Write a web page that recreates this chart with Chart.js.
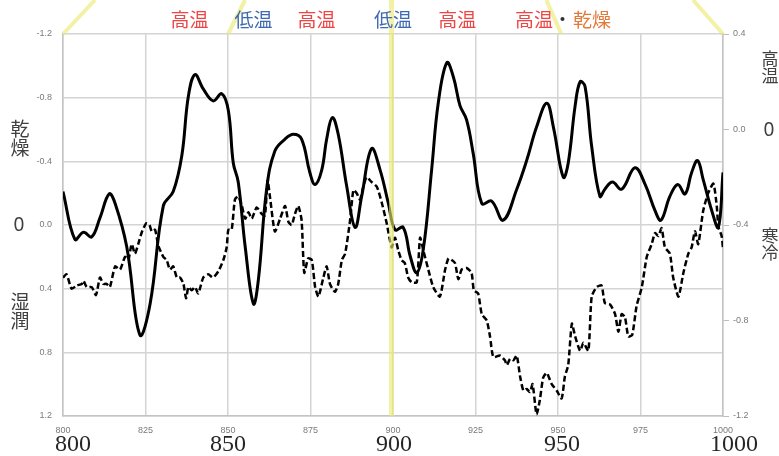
<!DOCTYPE html>
<html lang="ja">
<head>
<meta charset="utf-8">
<script src="https://cdn.jsdelivr.net/npm/chart.js@4/dist/chart.umd.min.js"></script>
<style>
  html, body { margin: 0; padding: 0; background: #ffffff; }
  #wrap { width: 779px; height: 456px; position: relative; }
</style>
</head>
<body>
<div id="wrap"><canvas id="c" width="779" height="456"></canvas></div>
<script>
// 気温（実線・右軸）
const tempYears = [800,803.6,806.2,808.7,811.2,814,815.8,819.3,823.3,826.4,830.4,833.4,836,838,840,842.5,845.5,848.1,850.1,851.6,853.1,855.2,857.7,859.2,861.7,864.2,867.3,869.8,872.3,874.8,876.4,878.4,879.9,881.6,883.4,886,888.5,890.5,893.5,896.1,898.6,900.6,903.1,905.2,907.2,909.2,911.7,913.7,916.3,918.3,920.3,922.3,924.3,926.9,929.9,933.4,937.5,940.5,943.5,946.6,948.6,951.6,953.1,955.2,956.7,958.2,960.2,962.7,964.2,966.5,969.3,973.3,976.4,979.4,981.2,983.9,986.3,988.5,990.5,992.3,994,996.6,998.6,1000];
const tempValues = [-0.26,-0.46,-0.43,-0.45,-0.37,-0.27,-0.31,-0.49,-0.86,-0.73,-0.32,-0.26,-0.11,0.14,0.23,0.17,0.12,0.15,0.08,-0.14,-0.22,-0.49,-0.73,-0.63,-0.25,-0.09,-0.04,-0.02,-0.04,-0.18,-0.23,-0.17,-0.04,0.05,-0.02,-0.24,-0.41,-0.28,-0.08,-0.17,-0.31,-0.42,-0.41,-0.53,-0.6,-0.5,-0.17,0.11,0.28,0.22,0.1,0.04,-0.1,-0.31,-0.3,-0.38,-0.25,-0.13,0.01,0.11,0.01,-0.2,-0.14,0.1,0.2,0.18,-0.07,-0.28,-0.25,-0.22,-0.25,-0.16,-0.23,-0.34,-0.38,-0.28,-0.23,-0.27,-0.18,-0.13,-0.21,-0.34,-0.41,-0.18];

// 乾湿（破線・左軸、上が乾燥）
const moistYears = [800,801.1,802.6,804.2,805.7,806.2,807.2,808.7,810,811.2,812.2,813.2,814.2,815.8,817.3,818.8,819.8,820.8,821.8,822.8,823.8,825.2,826.2,826.9,827.9,828.9,830.4,831.4,832.4,833.4,834.5,835.5,836.5,837.3,838,839,840,841,842.5,844,845.5,847.1,848.6,849.6,850.1,851.1,852.1,853.1,854.2,855.2,856.2,857.2,858.7,860.2,861.2,862,862.7,864.2,865.8,867.3,868.3,869.3,870.3,871.3,872.3,873.1,874.3,875.4,876.4,877.4,878.9,879.9,880.9,882.4,883.4,884.5,885.5,887,888,889,890,891,892,893.5,895.1,896.6,898.1,899.6,900.6,901.6,902.6,903.6,904.6,905.7,907.2,908.2,909.2,910.7,912.2,914.2,915.8,916.8,917.8,918.8,919.8,920.8,922.3,923.8,924.5,925.8,926.9,928.4,929.4,930.4,932.4,933.9,934.5,935.5,936.5,937.5,938.5,939.5,940.5,941.5,942.3,943.5,944.5,945.5,946.6,948.1,949.6,951.1,952.1,953.1,954.2,955.2,956.7,957.7,959.2,960.2,961.7,963.2,964.2,965.8,967.3,968.3,969.3,970.3,971.3,972.5,973.8,975.4,976.9,978.4,979.4,980.4,981.4,982.4,983.9,984.9,986.5,988,989.5,990.5,991.5,992.5,994,995.5,997.1,998.1,998.6,999.6,1000];
const moistValues = [0.33,0.31,0.4,0.38,0.37,0.35,0.39,0.39,0.44,0.33,0.37,0.37,0.39,0.26,0.28,0.2,0.22,0.12,0.18,0.12,0.05,-0.01,0,0.04,0.03,0.13,0.2,0.22,0.28,0.26,0.33,0.33,0.37,0.46,0.39,0.41,0.39,0.43,0.33,0.31,0.33,0.29,0.22,0.14,0.03,0.03,-0.16,-0.18,-0.12,-0.04,-0.08,-0.04,-0.11,-0.07,-0.06,-0.28,-0.18,0.04,-0.04,-0.12,-0.02,0,-0.07,-0.12,-0.03,0.3,0.21,0.22,0.39,0.45,0.33,0.26,0.37,0.42,0.37,0.22,0.18,-0.03,-0.22,-0.2,-0.16,-0.24,-0.3,-0.27,-0.24,-0.14,-0.01,0.14,0.08,0.16,0.22,0.24,0.33,0.36,0.36,0.08,0.16,0.28,0.39,0.45,0.28,0.21,0.22,0.24,0.34,0.28,0.27,0.3,0.41,0.43,0.56,0.6,0.7,0.83,0.82,0.85,0.88,0.84,0.85,0.82,0.95,1.04,1.03,1.05,1.0,1.19,1.1,0.96,0.93,1.0,1.04,1.09,0.95,0.88,0.62,0.7,0.79,0.74,0.79,0.45,0.39,0.38,0.49,0.5,0.56,0.67,0.56,0.58,0.7,0.69,0.51,0.39,0.2,0.12,0.05,0.07,0.02,0.14,0.18,0.33,0.45,0.3,0.18,0.14,0.04,0.12,-0.09,-0.2,-0.26,-0.12,0.01,0.07,0.15];

// 軸の目盛り
const xTicks = [800, 825, 850, 875, 900, 925, 950, 975, 1000];
const leftTicks = [-1.2, -0.8, -0.4, 0.0, 0.4, 0.8, 1.2];
const rightTicks = [-1.2, -0.8, -0.4, 0.0, 0.4];
const bigYearLabels = [800, 850, 900, 950, 1000];

// 上部の時期区分
const periodLabels = [
  { text: '高温', year: 838.3, kind: 'hot' },
  { text: '低温', year: 857.7, kind: 'cold' },
  { text: '高温', year: 876.8, kind: 'hot' },
  { text: '低温', year: 900.0, kind: 'cold' },
  { text: '高温', year: 919.5, kind: 'hot' },
  { text: '高温', year: 942.7, kind: 'hot' },
  { text: '・', year: 951.4, kind: 'dot' },
  { text: '乾燥', year: 960.3, kind: 'dry' }
];

const FONT_CJK = '"Noto Sans CJK JP", "Noto Sans", sans-serif';
const kindColor = { hot: '#ee4646', cold: '#3f68b2', dry: '#e07a38', dot: '#333333' };
const bigShift = { 800: 10, 850: 0, 900: 1, 950: 4, 1000: 11 };

const fmt = v => (Math.abs(v) < 1e-9 ? 0 : v).toFixed(1);

const decor = {
  id: 'decor',
  afterDatasetsDraw(chart) {
    const { ctx, chartArea: a, scales } = chart;
    const xs = scales.x;
    ctx.save();
    ctx.strokeStyle = 'rgba(236,232,110,0.62)';
    ctx.lineCap = 'butt';
    // 900年の縦帯
    ctx.lineWidth = 5;
    const x900 = xs.getPixelForValue(900) - 1.5;
    ctx.beginPath(); ctx.moveTo(x900, 0); ctx.lineTo(x900, a.bottom); ctx.stroke();
    // 上方へ伸びる斜線
    ctx.lineWidth = 4;
    const diag = [[800, 32], [850, 17], [951, -15], [1000, -30]];
    diag.forEach(([yr, dx]) => {
      const px = xs.getPixelForValue(yr);
      ctx.beginPath(); ctx.moveTo(px, a.top); ctx.lineTo(px + dx, 0); ctx.stroke();
    });
    ctx.restore();
  },
  afterDraw(chart) {
    const { ctx, scales } = chart;
    const xs = scales.x;
    ctx.save();
    ctx.textAlign = 'center';
    ctx.textBaseline = 'middle';

    // 時期区分ラベル
    ctx.font = '19px ' + FONT_CJK;
    periodLabels.forEach(p => {
      ctx.fillStyle = kindColor[p.kind];
      ctx.fillText(p.text, xs.getPixelForValue(p.year), 20);
    });

    // 大きな年号
    ctx.font = '24px "Liberation Serif", "DejaVu Serif", serif';
    ctx.fillStyle = '#262626';
    bigYearLabels.forEach(y => {
      ctx.fillText(String(y), xs.getPixelForValue(y) + bigShift[y], 445);
    });

    // 左側：乾燥 / 0 / 湿潤
    const yl = scales.y;
    ctx.fillStyle = '#404040';
    ctx.font = '19px ' + FONT_CJK;
    ctx.fillText('乾', 20, 129);
    ctx.fillText('燥', 20, 148);
    ctx.fillText('湿', 20, 302);
    ctx.fillText('潤', 20, 321);
    ctx.font = '19px "Noto Sans", sans-serif';
    ctx.fillText('0', 19, yl.getPixelForValue(0) + 1);

    // 右側：高温 / 0 / 寒冷
    const yr = scales.yT;
    ctx.font = '17px ' + FONT_CJK;
    ctx.fillText('高', 770, 59);
    ctx.fillText('温', 770, 76);
    ctx.fillText('寒', 770, 236);
    ctx.fillText('冷', 770, 253);
    ctx.font = '19px "Noto Sans", sans-serif';
    ctx.fillText('0', 769, yr.getPixelForValue(0) + 1);
    ctx.restore();
  }
};

const tickFont = { family: '"Liberation Sans", Arial, sans-serif', size: 9 };

new Chart(document.getElementById('c'), {
  type: 'line',
  data: {
    datasets: [
      {
        label: '気温',
        data: tempYears.map((x, i) => ({ x, y: tempValues[i] })),
        yAxisID: 'yT',
        borderColor: '#000000',
        borderWidth: 3,
        pointRadius: 0,
        tension: 0.4,
        fill: false
      },
      {
        label: '乾湿',
        data: moistYears.map((x, i) => ({ x, y: moistValues[i] })),
        yAxisID: 'y',
        borderColor: '#000000',
        borderWidth: 2.5,
        borderDash: [6, 3],
        pointRadius: 0,
        tension: 0.2,
        fill: false
      }
    ]
  },
  options: {
    responsive: false,
    animation: false,
    devicePixelRatio: 1,
    layout: { padding: { top: 34, left: 0, right: 0, bottom: 0 } },
    plugins: { legend: { display: false }, tooltip: { enabled: false } },
    scales: {
      x: {
        type: 'linear',
        min: 800, max: 1000,
        afterBuildTicks: s => { s.ticks = xTicks.map(v => ({ value: v })); },
        afterFit: s => { s.height = 40; },
        ticks: { font: tickFont, color: '#7a7a7a', padding: 9, maxRotation: 0, autoSkip: false, callback: v => String(v) },
        grid: { color: '#d4d4d4', lineWidth: 1.5, drawTicks: false },
        border: { color: '#c4c4c4', width: 1.5 }
      },
      y: {
        position: 'left',
        reverse: true,
        min: -1.2, max: 1.2,
        afterBuildTicks: s => { s.ticks = leftTicks.map(v => ({ value: v })); },
        afterFit: s => { s.width = 63; },
        ticks: { font: tickFont, color: '#7a7a7a', padding: 11, callback: v => fmt(v) },
        grid: { color: '#d4d4d4', lineWidth: 1.5, drawTicks: false },
        border: { color: '#c4c4c4', width: 1.5 }
      },
      yT: {
        position: 'right',
        min: -1.2, max: 0.4,
        afterBuildTicks: s => { s.ticks = rightTicks.map(v => ({ value: v })); },
        afterFit: s => { s.width = 56; },
        ticks: { font: tickFont, color: '#7a7a7a', padding: 4, callback: v => fmt(v) },
        grid: { drawOnChartArea: false, drawTicks: true, tickLength: 6, color: '#bdbdbd', lineWidth: 1 },
        border: { color: '#c4c4c4', width: 1.5 }
      }
    }
  },
  plugins: [decor]
});
</script>
</body>
</html>
